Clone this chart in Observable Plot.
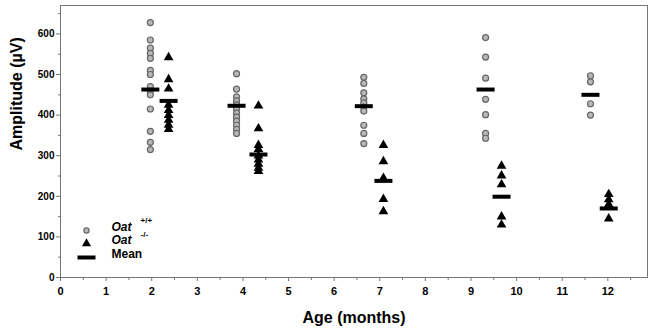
<!DOCTYPE html>
<html>
<head>
<meta charset="utf-8">
<script src="https://cdn.jsdelivr.net/npm/d3@7"></script>
<script src="https://cdn.jsdelivr.net/npm/@observablehq/plot@0.6"></script>
<style>
  html, body { margin: 0; padding: 0; background: #fff; }
  #chart { width: 650px; height: 335px; }
</style>
</head>
<body>
<div id="chart"></div>
<script>
// Age groups (months) and the x positions where each genotype's column is drawn
const ages = [2, 4, 7, 9.5, 12];
const wtX = [1.97, 3.86, 6.65, 9.32, 11.62];
const koX = [2.37, 4.34, 7.08, 9.67, 12.02];

// Oat +/+ amplitudes (µV) per age group
const wt2 = [628, 585, 565, 552, 540, 510, 500, 470, 460, 450, 415, 360, 333, 315];
const wt4 = [502, 464, 445, 435, 425, 415, 405, 395, 385, 375, 365, 355];
const wt7 = [493, 478, 455, 440, 430, 420, 410, 375, 355, 330];
const wt9 = [591, 543, 491, 439, 401, 355, 343];
const wt12 = [497, 482, 428, 400];

// Oat -/- amplitudes (µV) per age group
const ko2 = [542, 488, 465, 425, 412, 400, 388, 376, 365];
const ko4 = [423, 367, 326, 316, 300, 290, 280, 270, 262];
const ko7 = [326, 286, 245, 193, 163];
const ko9 = [275, 251, 229, 150, 130];
const ko12 = [205, 192, 180, 145];

// Means
const wtMean = [463, 423, 422, 463, 450];
const koMean = [435, 303, 238, 199, 170];

// Axis ticks
const xTicks = [0, 1, 2, 3, 4, 5, 6, 7, 8, 9, 10, 11, 12];
const xMinor = [0.5, 1.5, 2.5, 3.5, 4.5, 5.5, 6.5, 7.5, 8.5, 9.5, 10.5, 11.5, 12.5];
const yTicks = [0, 100, 200, 300, 400, 500, 600];
const yMinor = [50, 150, 250, 350, 450, 550, 650];

const wtGroups = [wt2, wt4, wt7, wt9, wt12];
const koGroups = [ko2, ko4, ko7, ko9, ko12];

const wtRows = wtGroups.flatMap((g, i) => g.map(v => ({x: wtX[i], y: v, age: ages[i]})));
const koRows = koGroups.flatMap((g, i) => g.map(v => ({x: koX[i], y: v, age: ages[i]})));
const meanRows = [
  ...wtMean.map((v, i) => ({x: wtX[i], y: v})),
  ...koMean.map((v, i) => ({x: koX[i], y: v}))
];

const barSymbol = {
  draw(ctx) {
    ctx.moveTo(-9, -2); ctx.lineTo(9, -2); ctx.lineTo(9, 2); ctx.lineTo(-9, 2); ctx.closePath();
  }
};

const one = [0];
const axisColor = "#777";

const chart = Plot.plot({
  width: 650,
  height: 335,
  marginLeft: 60,
  marginRight: 3,
  marginTop: 5,
  marginBottom: 58,
  style: {fontFamily: "'Liberation Sans', Arial, sans-serif", fontSize: "11px", fontWeight: "bold", background: "white"},
  x: {domain: [0, 12.87]},
  y: {domain: [0, 670]},
  marks: [
    Plot.frame({stroke: axisColor}),
    Plot.axisX({ticks: xTicks, tickSize: 4, tickPadding: 6, label: null, stroke: axisColor, fill: "black", fontWeight: "bold", fontSize: 11}),
    Plot.axisX({ticks: xMinor, tickSize: 3, tickFormat: () => "", label: null, stroke: axisColor}),
    Plot.axisY({ticks: yTicks, tickSize: 4, tickPadding: 2, label: null, stroke: axisColor, fill: "black", fontWeight: "bold", fontSize: 10}),
    Plot.axisY({ticks: yMinor, tickSize: 2, tickFormat: () => "", label: null, stroke: axisColor}),
    Plot.text(one, {frameAnchor: "bottom", dy: 45, text: () => "Age (months)", fontSize: 16, fontWeight: "bold", fill: "black"}),
    Plot.text(one, {frameAnchor: "left", dx: -44, dy: 9, rotate: -90, text: () => "Amplitude (µV)", fontSize: 16, fontWeight: "bold", fill: "black"}),
    Plot.dot(wtRows, {x: "x", y: "y", r: 3, fill: "#b8b8b8", stroke: "#666", strokeWidth: 1.2}),
    Plot.dot(koRows, {x: "x", y: "y", symbol: "triangle", r: 3.6, fill: "black", stroke: "none"}),
    Plot.dot(meanRows, {x: "x", y: "y", symbol: barSymbol, fill: "black", stroke: "none"}),
    // Legend
    Plot.dot(one, {frameAnchor: "bottom-left", dx: 26, dy: -47, r: 2.6, fill: "#b8b8b8", stroke: "#666", strokeWidth: 1.2}),
    Plot.dot(one, {frameAnchor: "bottom-left", dx: 26, dy: -34, symbol: "triangle", r: 3.4, fill: "black", stroke: "none"}),
    Plot.dot(one, {frameAnchor: "bottom-left", dx: 26, dy: -20, symbol: barSymbol, fill: "black", stroke: "none"}),
    Plot.text(one, {frameAnchor: "bottom-left", dx: 51, dy: -47, text: () => "Oat", textAnchor: "start", fontStyle: "italic", fontWeight: "bold", fontSize: 12, fill: "black"}),
    Plot.text(one, {frameAnchor: "bottom-left", dx: 80, dy: -55, text: () => "+/+", textAnchor: "start", fontWeight: "bold", fontSize: 8, fill: "black"}),
    Plot.text(one, {frameAnchor: "bottom-left", dx: 51, dy: -34, text: () => "Oat", textAnchor: "start", fontStyle: "italic", fontWeight: "bold", fontSize: 12, fill: "black"}),
    Plot.text(one, {frameAnchor: "bottom-left", dx: 80, dy: -41, text: () => "-/-", textAnchor: "start", fontWeight: "bold", fontSize: 8, fill: "black"}),
    Plot.text(one, {frameAnchor: "bottom-left", dx: 51, dy: -20, text: () => "Mean", textAnchor: "start", fontWeight: "bold", fontSize: 12, fill: "black"})
  ]
});

document.getElementById("chart").appendChild(chart);
</script>
</body>
</html>
